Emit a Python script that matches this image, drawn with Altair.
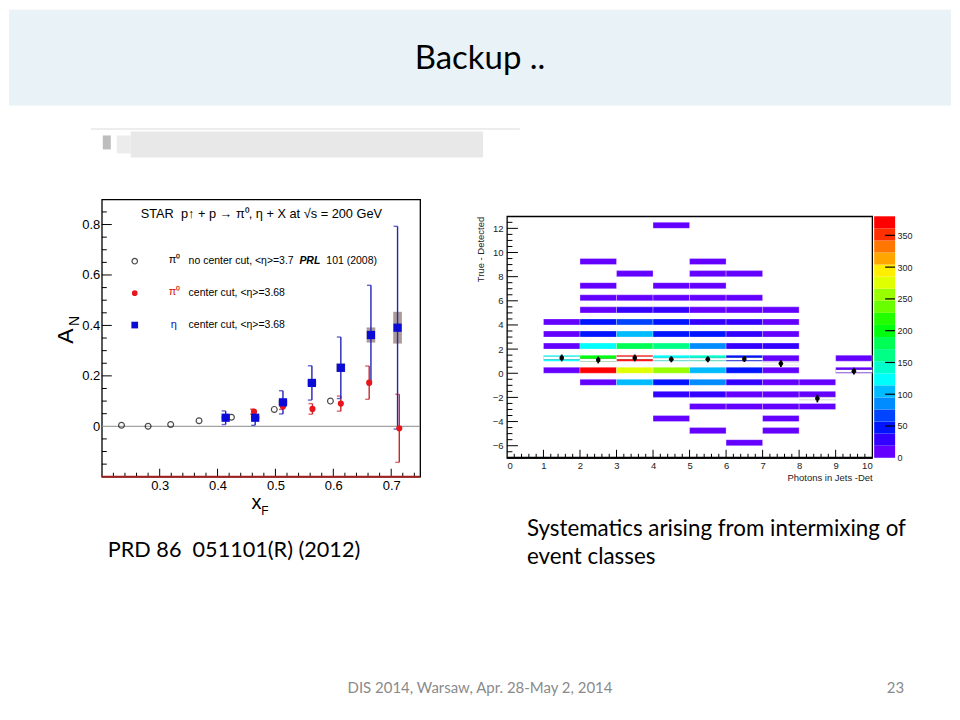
import altair as alt
import pandas as pd

# ---------------- left panel: STAR A_N vs x_F ----------------
circ_x = [0.234, 0.280, 0.319, 0.368, 0.424, 0.498, 0.595]
circ_y = [0.004, 0.000, 0.007, 0.022, 0.036, 0.067, 0.100]

red_x = [0.463, 0.513, 0.564, 0.613, 0.662, 0.714]
red_y = [0.058, 0.079, 0.069, 0.090, 0.173, -0.008]
red_err = [0.010, 0.012, 0.021, 0.030, 0.066, 0.135]

blue_x = [0.414, 0.465, 0.513, 0.563, 0.613, 0.665, 0.711]
blue_y = [0.034, 0.034, 0.095, 0.172, 0.232, 0.362, 0.391]
blue_err = [0.027, 0.030, 0.046, 0.068, 0.122, 0.197, 0.402]
blue_sys = [0.006, 0.006, 0.010, 0.012, 0.017, 0.030, 0.063]

left_x_major = [0.3, 0.4, 0.5, 0.6, 0.7]
left_x_minor = [0.22, 0.24, 0.26, 0.28, 0.32, 0.34, 0.36, 0.38, 0.42, 0.44, 0.46, 0.48,
                0.52, 0.54, 0.56, 0.58, 0.62, 0.64, 0.66, 0.68, 0.72, 0.74]
left_y_major = [0.0, 0.2, 0.4, 0.6, 0.8]
left_y_minor = [-0.15, -0.1, -0.05, 0.05, 0.1, 0.15, 0.25, 0.3, 0.35, 0.45, 0.5, 0.55,
                0.65, 0.7, 0.75, 0.85]

# ---------------- right panel: 2D histogram ----------------
cell_y = ([12] + [9] * 2 + [8] * 3 + [7] * 3 + [6] * 5 + [5] * 6 + [4] * 7 + [3] * 7 +
          [2] * 7 + [1] * 8 + [0] * 8 + [-1] * 7 + [-2] * 5 + [-3] * 4 + [-4] * 2 +
          [-5] * 2 + [-6])
cell_x = ([4] +
          [2, 5] +
          [3, 5, 6] +
          [2, 4, 5] +
          [2, 3, 4, 5, 6] +
          [2, 3, 4, 5, 6, 7] +
          [1, 2, 3, 4, 5, 6, 7] +
          [1, 2, 3, 4, 5, 6, 7] +
          [1, 2, 3, 4, 5, 6, 7] +
          [1, 2, 3, 4, 5, 6, 7, 9] +
          [1, 2, 3, 4, 5, 6, 7, 9] +
          [2, 3, 4, 5, 6, 7, 8] +
          [4, 5, 6, 7, 8] +
          [5, 6, 7, 8] +
          [4, 7] +
          [5, 7] +
          [6])
cell_count = ([4] +
              [5, 5] +
              [4, 6, 5] +
              [6, 5, 6] +
              [8, 9, 10, 8, 7] +
              [12, 26, 24, 14, 12, 9] +
              [10, 50, 62, 48, 32, 30, 12] +
              [12, 48, 102, 44, 46, 28, 14] +
              [14, 124, 180, 165, 84, 27, 24] +
              [125, 200, 372, 126, 140, 47, 12, 6] +
              [10, 378, 278, 255, 104, 42, 14, 4] +
              [12, 100, 44, 84, 30, 14, 8] +
              [33, 30, 16, 12, 6] +
              [10, 12, 10, 6] +
              [6, 6] +
              [5, 5] +
              [4])

prof_x = [1.5, 2.5, 3.5, 4.5, 5.5, 6.5, 7.5, 8.5, 9.5]
prof_mean = [1.27, 1.10, 1.27, 1.16, 1.16, 1.18, 0.80, -2.09, 0.17]
prof_err = [0.28, 0.28, 0.28, 0.25, 0.25, 0.25, 0.28, 0.32, 0.28]

r_x_labels = [0, 1, 2, 3, 4, 5, 6, 7, 8, 9, 10]
r_y_labels = [-6, -4, -2, 0, 2, 4, 6, 8, 10, 12]
r_x_minor = [i / 5 for i in range(1, 50) if i % 5]
r_y_minor = [-6.5 + 0.5 * i for i in range(39) if (-6.5 + 0.5 * i) % 2]
cb_labels = [0, 50, 100, 150, 200, 250, 300, 350]

# ROOT "pretty" palette, 20 contour levels
palette = ["#6300ff", "#3300ff", "#0014ff", "#0044ff", "#008bff", "#00bbff", "#00fffc",
           "#00ffcc", "#00ff85", "#00ff55", "#00ff0e", "#22ff00", "#69ff00", "#99ff00",
           "#e0ff00", "#ffee00", "#ffa700", "#ff7700", "#ff3000", "#ff0000"]
levels = list(range(19, 380, 19))

SLIDE = "Lato"
ROOT = "Liberation Sans"
LW, LH = 319, 278
RW, RH = 366, 242
one = alt.Data(values=[{}])


def txt(s, x, y, size, font=ROOT, color="black", align="left", angle=0,
        weight="normal", style="normal"):
    kw = dict(text=s, fontSize=size, font=font, color=color, align=align,
              baseline="middle", fontWeight=weight, fontStyle=style)
    if angle:
        kw["angle"] = angle
    return alt.Chart(one).mark_text(**kw).encode(x=alt.value(x), y=alt.value(y))


def box(x, x2, y, y2, fill, opacity=1.0):
    return alt.Chart(one).mark_rect(fill=fill, opacity=opacity).encode(
        x=alt.value(x), x2=alt.value(x2), y=alt.value(y), y2=alt.value(y2))


# ---------- left panel ----------
lxs = alt.Scale(domain=[0.2, 0.75], nice=False, zero=False)
lys = alt.Scale(domain=[-0.2, 0.9], nice=False, zero=False)
lab = "datum.value == 0 ? '0' : format(datum.value, '.1f')"
lxa = alt.Axis(values=left_x_major, title=None, grid=False, ticks=False, tickSize=0,
               domain=False, labelFont=ROOT, labelFontSize=13, labelColor="black",
               labelPadding=3, labelExpr=lab)
lya = alt.Axis(values=left_y_major, title=None, grid=False, ticks=False, tickSize=0,
               domain=False, labelFont=ROOT, labelFontSize=13, labelColor="black",
               labelPadding=2, labelExpr=lab)


def lx(f):
    return alt.X(f"{f}:Q", scale=lxs, axis=lxa)


def ly(f):
    return alt.Y(f"{f}:Q", scale=lys, axis=lya)


circ = pd.DataFrame({"x": circ_x, "y": circ_y})
red = pd.DataFrame({"x": red_x, "y": red_y})
red["lo"] = red["y"] - pd.Series(red_err)
red["hi"] = red["y"] + pd.Series(red_err)
blue = pd.DataFrame({"x": blue_x, "y": blue_y})
blue["lo"] = blue["y"] - pd.Series(blue_err)
blue["hi"] = blue["y"] + pd.Series(blue_err)
blue["slo"] = blue["y"] - pd.Series(blue_sys)
blue["shi"] = blue["y"] + pd.Series(blue_sys)
blue["sxl"] = blue["x"] - 0.0075
blue["sxr"] = blue["x"] + 0.0075

RED, REDBAR = "#e8161c", "#c8282a"
BLUE, BLUEBAR = "#0b0bd8", "#2424b8"
NB = "\u00a0"

left_layers = [
    # slide decorations
    box(-93, 851, -190, -94, "#e8f2f7"),
    box(-11, 419, -71, -70, "#dcdcdc"),
    box(29, 382, -68, -42, "#e4e4e4", 0.85),
    box(15, 29, -64, -46, "#ececec"),
    box(1, 9, -64, -50, "#bdbdbd"),
    txt("Backup ..", 379, -141, 33, font=SLIDE, align="center"),
    txt(f"PRD 86{NB}{NB}051101(R) (2012)", 6, 351, 21.7, font=SLIDE),
    txt("Systematics arising from intermixing of", 426, 330, 22.4, font=SLIDE),
    txt("event classes", 426, 358, 22.4, font=SLIDE),
    txt("DIS 2014, Warsaw, Apr. 28-May 2, 2014", 379, 490, 15, font=SLIDE,
        color="#8a8a8a", align="center"),
    txt("23", 804, 490, 15, font=SLIDE, color="#8a8a8a", align="right"),
    # ticks
    alt.Chart(pd.DataFrame({"v": left_y_major[1:]})).mark_rule(color="black").encode(
        y=ly("v"), x=alt.value(0), x2=alt.value(10)),
    alt.Chart(pd.DataFrame({"v": left_y_minor})).mark_rule(color="black").encode(
        y=ly("v"), x=alt.value(0), x2=alt.value(5)),
    alt.Chart(pd.DataFrame({"v": left_x_major})).mark_rule(color="black").encode(
        x=lx("v"), y=alt.value(LH), y2=alt.value(LH - 8)),
    alt.Chart(pd.DataFrame({"v": left_x_minor})).mark_rule(color="black").encode(
        x=lx("v"), y=alt.value(LH), y2=alt.value(LH - 4)),
    alt.Chart(one).mark_rule(color="#a32020", strokeWidth=2).encode(
        x=alt.value(0), x2=alt.value(LW), y=alt.value(LH)),
    # zero line
    alt.Chart(pd.DataFrame({"y": [0.0]})).mark_rule(color="#8c8c8c").encode(
        y=ly("y"), x=alt.value(0), x2=alt.value(LW)),
    # systematic boxes
    alt.Chart(blue).mark_rect(color="#9f8a84", opacity=0.85).encode(
        x=lx("sxl"), x2="sxr", y=ly("slo"), y2="shi"),
    # error bars
    alt.Chart(red).mark_rule(color=REDBAR, strokeWidth=1.4).encode(
        x=lx("x"), y=ly("lo"), y2="hi"),
    alt.Chart(red).mark_tick(orient="horizontal", color=REDBAR, size=4, thickness=1.4,
                             xOffset=-2).encode(x=lx("x"), y=ly("lo")),
    alt.Chart(red).mark_tick(orient="horizontal", color=REDBAR, size=4, thickness=1.4,
                             xOffset=-2).encode(x=lx("x"), y=ly("hi")),
    alt.Chart(blue).mark_rule(color=BLUEBAR, strokeWidth=1.4).encode(
        x=lx("x"), y=ly("lo"), y2="hi"),
    alt.Chart(blue).mark_tick(orient="horizontal", color=BLUEBAR, size=4, thickness=1.4,
                              xOffset=-2).encode(x=lx("x"), y=ly("lo")),
    alt.Chart(blue).mark_tick(orient="horizontal", color=BLUEBAR, size=4, thickness=1.4,
                              xOffset=-2).encode(x=lx("x"), y=ly("hi")),
    # markers
    alt.Chart(circ).mark_point(shape="circle", filled=False, color="black",
                               strokeWidth=1.2, size=34).encode(x=lx("x"), y=ly("y")),
    alt.Chart(red).mark_point(shape="circle", filled=True, color=RED, opacity=1,
                              size=38).encode(x=lx("x"), y=ly("y")),
    alt.Chart(blue).mark_square(color=BLUE, opacity=1, size=68).encode(
        x=lx("x"), y=ly("y")),
    # in-plot title and legend
    txt(f"STAR{NB}{NB}p\u2191 + p \u2192 \u03c0\u2070, \u03b7 + X at \u221as = 200 GeV",
        39, 15, 12.8),
    alt.Chart(one).mark_point(shape="circle", filled=False, color="black",
                              strokeWidth=1.2, size=30).encode(x=alt.value(33),
                                                               y=alt.value(62)),
    alt.Chart(one).mark_point(shape="circle", filled=True, color=RED, opacity=1,
                              size=32).encode(x=alt.value(33), y=alt.value(94)),
    alt.Chart(one).mark_square(color=BLUE, opacity=1, size=45).encode(
        x=alt.value(33), y=alt.value(126)),
    txt("\u03c0\u2070", 67, 61, 11),
    txt("\u03c0\u2070", 67, 93, 11, color="#d01010"),
    txt("\u03b7", 69, 126, 11, color="#1010c0"),
    txt("no center cut, <\u03b7>=3.7", 87, 62, 10.5),
    txt("PRL", 198, 62, 10.5, weight="bold", style="italic"),
    txt("101 (2008)", 225, 62, 10.5),
    txt("center cut, <\u03b7>=3.68", 87, 94, 10.5),
    txt("center cut, <\u03b7>=3.68", 87, 126, 10.5),
    # axis titles
    txt("A", -36, 137, 23, align="center", angle=270),
    txt("N", -27, 122, 14, align="center", angle=270),
    txt("x", 155, 304, 20, align="center"),
    txt("F", 163.5, 312, 12, align="center"),
]
left = alt.layer(*left_layers).properties(
    width=LW, height=LH, view=alt.ViewBackground(stroke="black", strokeWidth=1.3))

# ---------- right panel ----------
rxs = alt.Scale(domain=[0, 10], nice=False, zero=False)
rys = alt.Scale(domain=[-7, 13], nice=False, zero=False)
rxa = alt.Axis(values=r_x_labels, title="Photons in Jets -Det", titleAnchor="end",
               titleFont=ROOT, titleFontSize=9.5, titleFontWeight="normal",
               titleColor="#222222", titlePadding=3, grid=False, ticks=False,
               tickSize=0, domain=False, labelFont=ROOT, labelFontSize=9.5,
               labelColor="#222222", labelPadding=2.5)
rya = alt.Axis(values=r_y_labels, title="True - Detected", titleAnchor="end",
               titleFont=ROOT, titleFontSize=9.5, titleFontWeight="normal",
               titleColor="#222222", titlePadding=7, grid=False, ticks=False,
               tickSize=0, domain=False, labelFont=ROOT, labelFontSize=9.5,
               labelColor="#222222", labelPadding=4)
cscale = alt.Scale(type="threshold", domain=levels, range=palette)


def rx(f):
    return alt.X(f"{f}:Q", scale=rxs, axis=rxa)


def ry(f):
    return alt.Y(f"{f}:Q", scale=rys, axis=rya)


cells = pd.DataFrame({"x": cell_x, "y": cell_y, "count": cell_count})
cells["x2"] = cells["x"] + 1
cells["y2"] = cells["y"] + 0.5
prof = pd.DataFrame({"xc": prof_x, "m": prof_mean})
prof["xl"] = prof["xc"] - 0.5
prof["xr"] = prof["xc"] + 0.5
prof["lo"] = prof["m"] - pd.Series(prof_err)
prof["hi"] = prof["m"] + pd.Series(prof_err)

right_layers = [
    alt.Chart(cells).mark_rect(stroke="white", strokeWidth=0.5, strokeOpacity=0.6).encode(
        x=rx("x"), x2="x2", y=ry("y"), y2="y2",
        color=alt.Color("count:Q", scale=cscale, legend=None)),
    alt.Chart(prof).mark_rule(color="#9a9a9a", strokeWidth=3.5, opacity=0.5).encode(
        x=rx("xl"), x2="xr", y=ry("m")),
    alt.Chart(prof).mark_rule(color="white", strokeWidth=2.2).encode(
        x=rx("xl"), x2="xr", y=ry("m")),
    alt.Chart(prof).mark_rule(color="black", strokeWidth=1.8).encode(
        x=rx("xc"), y=ry("lo"), y2="hi"),
    alt.Chart(prof).mark_point(shape="circle", filled=True, color="black", opacity=1,
                               size=22).encode(x=rx("xc"), y=ry("m")),
    alt.Chart(pd.DataFrame({"v": r_y_labels})).mark_rule(color="black").encode(
        y=ry("v"), x=alt.value(0), x2=alt.value(11)),
    alt.Chart(pd.DataFrame({"v": r_y_minor})).mark_rule(color="black").encode(
        y=ry("v"), x=alt.value(0), x2=alt.value(5.5)),
    alt.Chart(pd.DataFrame({"v": r_x_labels[1:-1]})).mark_rule(color="black").encode(
        x=rx("v"), y=alt.value(RH), y2=alt.value(RH - 8)),
    alt.Chart(pd.DataFrame({"v": r_x_minor})).mark_rule(color="black").encode(
        x=rx("v"), y=alt.value(RH), y2=alt.value(RH - 4)),
    alt.Chart(one).mark_rule(color="black", strokeWidth=2).encode(
        x=alt.value(0), x2=alt.value(RW), y=alt.value(RH)),
]
right = alt.layer(*right_layers).properties(
    width=RW, height=RH, view=alt.ViewBackground(stroke="black", strokeWidth=1.3))

# colour bar
cb = pd.DataFrame({"lo": [0] + levels})
cb["hi"] = cb["lo"] + 19
cb["mid"] = cb["lo"] + 9.5
cbs = alt.Scale(domain=[0, 380], nice=False, zero=False)
cba = alt.Axis(orient="right", values=cb_labels, title=None, grid=False, ticks=False,
               tickSize=0, domain=False, labelFont=ROOT, labelFontSize=9,
               labelColor="#222222", labelPadding=2)
colorbar = alt.layer(
    alt.Chart(cb).mark_rect().encode(
        y=alt.Y("lo:Q", scale=cbs, axis=cba), y2="hi", x=alt.value(0), x2=alt.value(21),
        color=alt.Color("mid:Q", scale=cscale, legend=None)),
    alt.Chart(pd.DataFrame({"v": cb_labels[1:]})).mark_rule(color="black", strokeWidth=1.2).encode(
        y=alt.Y("v:Q", scale=cbs, axis=cba), x=alt.value(11), x2=alt.value(21)),
).properties(width=21, height=RH)

spacer = alt.Chart(one).mark_point(opacity=0).encode(
    x=alt.value(0), y=alt.value(0)).properties(width=1, height=17)

right_group = alt.vconcat(
    spacer,
    alt.hconcat(right, colorbar, spacing=2, bounds="flush"),
    spacing=0, bounds="flush")

chart = alt.hconcat(left, right_group, spacing=87, bounds="flush").properties(
    padding=0).configure_view(stroke="transparent")

chart.save("out.html", embed_options={"renderer": "svg", "actions": False})
